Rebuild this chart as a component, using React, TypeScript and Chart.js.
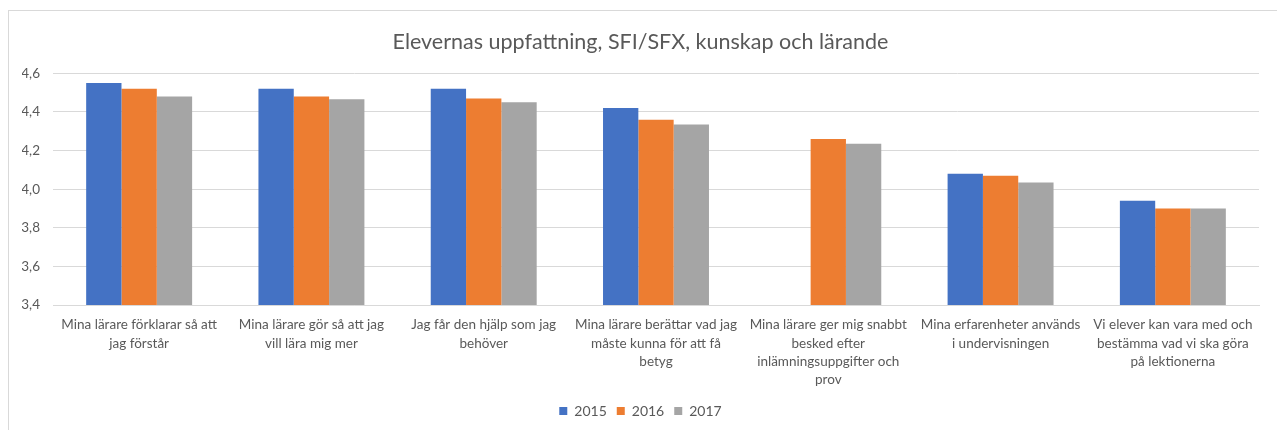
import React, { useEffect, useRef } from "react";
import { Chart, registerables } from "chart.js";

Chart.register(...registerables);

const categories: string[][] = [
  ["Mina lärare förklarar så att", "jag förstår"],
  ["Mina lärare gör så att jag", "vill lära mig mer"],
  ["Jag får den hjälp som jag", "behöver"],
  ["Mina lärare berättar vad jag", "måste kunna för att få", "betyg"],
  ["Mina lärare ger mig snabbt", "besked efter", "inlämningsuppgifter och", "prov"],
  ["Mina erfarenheter används", "i undervisningen"],
  ["Vi elever kan vara med och", "bestämma vad vi ska göra", "på lektionerna"],
];

const series2015: (number | null)[] = [4.55, 4.52, 4.52, 4.42, null, 4.08, 3.94];
const series2016: (number | null)[] = [4.52, 4.48, 4.47, 4.36, 4.26, 4.07, 3.9];
const series2017: (number | null)[] = [4.48, 4.465, 4.45, 4.335, 4.235, 4.035, 3.9];

const seriesLabels = ["2015", "2016", "2017"];
const yTicks = { min: 3.4, max: 4.6, step: 0.2 };
const titleText = "Elevernas uppfattning, SFI/SFX, kunskap och lärande";

const FONT = "Lato, 'Open Sans', sans-serif";
const TEXT = "#595959";

export default function App() {
  const ref = useRef<HTMLCanvasElement | null>(null);

  useEffect(() => {
    if (!ref.current) return;
    const chart = new Chart(ref.current, {
      type: "bar",
      data: {
        labels: categories,
        datasets: [
          { label: seriesLabels[0], data: series2015, backgroundColor: "#4472C4" },
          { label: seriesLabels[1], data: series2016, backgroundColor: "#ED7D31" },
          { label: seriesLabels[2], data: series2017, backgroundColor: "#A5A5A5" },
        ],
      },
      options: {
        animation: false,
        responsive: false,
        maintainAspectRatio: false,
        layout: { padding: { left: 22, right: 18, top: 0, bottom: 2 } },
        datasets: {
          bar: { categoryPercentage: 0.615, barPercentage: 1.0 },
        },
        plugins: {
          title: {
            display: true,
            text: titleText,
            color: TEXT,
            font: { family: FONT, size: 21.5, weight: "normal" },
            padding: { top: 29, bottom: 18.5 },
          },
          legend: {
            position: "bottom",
            labels: {
              color: TEXT,
              font: { family: FONT, size: 14 },
              boxWidth: 8,
              boxHeight: 8,
              padding: 10,
            },
          },
          tooltip: { enabled: false },
        },
        scales: {
          x: {
            grid: { display: false, drawTicks: false },
            border: { display: true, color: "#d9d9d9" },
            ticks: {
              color: TEXT,
              font: { family: FONT, size: 13.5, lineHeight: 1.35 },
              maxRotation: 0,
              autoSkip: false,
              padding: 11,
            },
            afterFit: (scale: any) => {
              scale.height = 89;
            },
          },
          y: {
            min: yTicks.min,
            max: yTicks.max,
            grid: { color: "#d9d9d9", drawTicks: false },
            border: { display: false },
            ticks: {
              stepSize: yTicks.step,
              color: TEXT,
              font: { family: FONT, size: 13.5 },
              padding: 13,
              callback: (v: any) => Number(v).toFixed(1).replace(".", ","),
            },
            afterFit: (scale: any) => {
              scale.width = 31;
            },
          },
        },
      },
    });
    return () => chart.destroy();
  }, []);

  return (
    <div style={{ position: "absolute", left: 0, top: 0, width: 1277, height: 430, overflow: "hidden", background: "#fff" }}>
      <div
        style={{
          position: "absolute",
          left: 8,
          top: 10,
          width: 1300,
          height: 460,
          border: "1.5px solid #d9d9d9",
          boxSizing: "border-box",
        }}
      />
      <canvas ref={ref} width={1277} height={430} style={{ position: "absolute", left: 0, top: 0 }} />
    </div>
  );
}
